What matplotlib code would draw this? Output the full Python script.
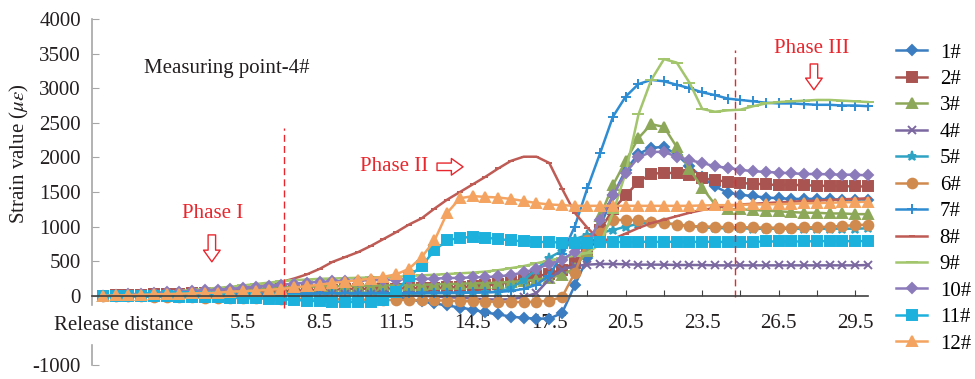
import numpy as np
import matplotlib
matplotlib.use("Agg")
import matplotlib.pyplot as plt

plt.rcParams['font.family'] = ['Liberation Serif', 'DejaVu Serif']
plt.rcParams['mathtext.fontset'] = 'stix'
plt.rcParams['axes.unicode_minus'] = False

# release distance (categories, step 0.5)
release = np.arange(0, 30.5, 0.5)

# strain values per measuring point (micro strain)
s1 = [0, 2, 4, 6, 8, 10, 12, 14, 16, 18,
      20, 22, 24, 26, 28, 30, 30, 32, 32, 30,
      25, 15, 0, -20, -50, -80, -110, -140, -170, -200,
      -240, -270, -300, -320, -330, -330, -250, 150, 550, 1000,
      1450, 1820, 2050, 2140, 2150, 2040, 1870, 1710, 1580, 1490,
      1460, 1440, 1420, 1410, 1400, 1400, 1400, 1395, 1390, 1390,
      1390]
s2 = [0, 5, 10, 15, 20, 25, 30, 35, 40, 45,
      50, 55, 60, 65, 70, 75, 80, 85, 90, 95,
      100, 100, 105, 105, 110, 110, 115, 120, 125, 135,
      150, 170, 200, 240, 280, 320, 380, 480, 650, 950,
      1250, 1450, 1650, 1760, 1780, 1770, 1740, 1700, 1670, 1650,
      1630, 1620, 1610, 1600, 1600, 1600, 1590, 1590, 1585, 1580,
      1580]
s3 = [0, 5, 10, 15, 20, 30, 40, 50, 60, 70,
      80, 90, 100, 110, 120, 125, 130, 135, 140, 140,
      145, 145, 150, 150, 155, 160, 165, 170, 175, 180,
      185, 190, 200, 215, 235, 260, 300, 400, 650, 1150,
      1600, 1950, 2280, 2480, 2440, 2150, 1830, 1560, 1320, 1250,
      1250, 1240, 1230, 1220, 1210, 1200, 1200, 1190, 1190, 1180,
      1180]
s4 = [0, 2, 4, 6, 8, 10, 12, 14, 16, 18,
      20, 22, 24, 26, 28, 30, 30, 30, 30, 30,
      30, 28, 25, 20, 10, 0, -10, -20, -30, -40,
      -50, -55, -50, -20, 40, 240, 380, 430, 450, 460,
      460, 455, 450, 450, 450, 445, 445, 445, 440, 440,
      440, 440, 440, 440, 440, 440, 440, 440, 440, 440,
      445]
s5 = [0, 2, 4, 6, 8, 10, 12, 14, 16, 18,
      20, 20, 22, 22, 24, 24, 25, 25, 26, 26,
      27, 28, 29, 30, 32, 34, 36, 38, 40, 45,
      50, 60, 110, 230, 380, 550, 650, 820, 880, 910,
      950, 1000, 1040, 1060, 1050, 1030, 1010, 990, 980, 975,
      975, 970, 970, 970, 970, 970, 970, 970, 970, 970,
      975]
s6 = [0, -5, -10, -10, -15, -15, -20, -20, -25, -25,
      -30, -30, -35, -35, -40, -40, -45, -45, -50, -50,
      -55, -55, -60, -60, -60, -65, -65, -70, -75, -80,
      -85, -85, -90, -90, -85, -70, -20, 330, 800, 910,
      1090, 1100, 1090, 1070, 1050, 1030, 1010, 1000, 1000, 990,
      990, 990, 985, 985, 985, 990, 990, 1000, 1010, 1020,
      1030]
s7 = [0, 2, 4, 6, 8, 10, 12, 14, 16, 18,
      20, 22, 24, 26, 28, 30, 32, 34, 36, 38,
      40, 40, 42, 42, 44, 44, 46, 46, 48, 48,
      50, 55, 70, 100, 160, 290, 600, 1000, 1560, 2066,
      2590, 2880, 3060, 3120, 3100, 3050, 3000, 2940, 2900, 2850,
      2830, 2810, 2790, 2780, 2780, 2770, 2760, 2760, 2750, 2750,
      2740]
s8 = [0, 5, 10, 15, 25, 35, 45, 55, 65, 80,
      95, 110, 130, 160, 200, 250, 310, 390, 490, 560,
      630, 720, 820, 920, 1030, 1120, 1260, 1390, 1500, 1610,
      1720, 1840, 1950, 2010, 2010, 1920, 1550, 1200, 980, 800,
      820, 900, 980, 1050, 1100, 1150, 1200, 1240, 1270, 1300,
      1320, 1330, 1340, 1350, 1360, 1370, 1375, 1385, 1395, 1400,
      1410]
s9 = [0, 10, 20, 30, 40, 55, 70, 85, 100, 115,
      130, 150, 170, 190, 210, 225, 235, 245, 250, 255,
      260, 265, 270, 275, 285, 295, 305, 315, 325, 335,
      350, 370, 400, 430, 470, 510, 550, 580, 620, 750,
      1200, 1780, 2620, 3120, 3420, 3370, 3080, 2700, 2660, 2680,
      2690, 2740, 2780, 2800, 2810, 2820, 2830, 2830, 2820, 2810,
      2800]
s10 = [0, 10, 20, 30, 40, 50, 60, 70, 80, 90,
       100, 115, 130, 145, 160, 175, 190, 200, 210, 215,
       220, 225, 230, 235, 240, 245, 250, 255, 260, 265,
       270, 280, 300, 340, 390, 460, 520, 640, 750, 1100,
       1450, 1780, 2000, 2080, 2080, 2010, 1960, 1920, 1870, 1850,
       1820, 1800, 1790, 1780, 1770, 1760, 1760, 1755, 1750, 1750,
       1740]
s11 = [0, -5, -5, -10, -10, -10, -15, -15, -20, -20,
       -25, -30, -35, -40, -50, -60, -70, -80, -85, -90,
       -90, -90, -60, 50, 280, 430, 660, 800, 840, 850,
       840, 820, 800, 790, 780, 775, 770, 770, 770, 775,
       775, 775, 780, 780, 780, 780, 780, 780, 780, 780,
       780, 780, 785, 785, 785, 785, 790, 790, 790, 790,
       790]
s12 = [0, 5, 10, 15, 20, 25, 30, 35, 40, 45,
       60, 65, 75, 85, 100, 120, 140, 160, 185, 205,
       225, 250, 275, 310, 390, 560, 800, 1200, 1410, 1440,
       1430, 1420, 1400, 1370, 1340, 1320, 1310, 1300, 1300, 1300,
       1300, 1300, 1300, 1300, 1300, 1300, 1300, 1305, 1310, 1310,
       1315, 1320, 1320, 1325, 1330, 1335, 1340, 1345, 1350, 1355,
       1360]

series = [s1, s2, s3, s4, s5, s6, s7, s8, s9, s10, s11, s12]
labels = ['1#', '2#', '3#', '4#', '5#', '6#', '7#', '8#', '9#', '10#', '11#', '12#']
colors = ['#3B7DC0', '#A95450', '#8EA85A', '#7B68A0', '#2FA3C3', '#D18A4E',
          '#2E8CD3', '#BE5B55', '#A3C56C', '#8C7BBB', '#1CB0DD', '#F4A460']
markers = ['D', 's', '^', 'x', '*', 'o', '+', '_', '_', 'D', 's', '^']
msizes = [5.5, 7, 7, 5.5, 6.5, 7, 7.5, 4, 8, 5.5, 7.5, 7]

fig = plt.figure(figsize=(9.75, 3.79), dpi=100)
ax = fig.add_axes([92 / 975, 1 - 365 / 379, (868 - 92) / 975, (365 - 19) / 379])

for vals, lab, c, m, ms in zip(series, labels, colors, markers, msizes):
    ax.plot(release, vals, color=c, lw=1.8, marker=m, ms=ms, mfc=c, mec=c,
            mew=1.4, label=lab, clip_on=False)

ax.set_xlim(-0.43, 30.0)
ax.set_ylim(-1000, 4000)

# axes styling
for sp in ['top', 'right', 'left']:
    ax.spines[sp].set_visible(False)
ax.spines['bottom'].set_position(('data', 0))
ax.spines['bottom'].set_color('#404040')
ax.spines['bottom'].set_linewidth(1.2)
ytr = ax.get_yaxis_transform()
ax.plot([0, 0], [-1000, -710], color='#A6A6A6', lw=1.2, transform=ytr, clip_on=False)
ax.plot([0, 0], [-130, 4000], color='#A6A6A6', lw=1.2, transform=ytr, clip_on=False)

xt = [1 + 1.5 * k for k in range(20)]
ax.set_xticks(xt)
ax.set_xticklabels([f'{t:.1f}' if t >= 5.5 and (t - 5.5) % 3 == 0 else '' for t in xt])
ax.set_yticks([-1000, 0, 500, 1000, 1500, 2000, 2500, 3000, 3500, 4000])
ax.tick_params(axis='x', direction='in', length=4, color='#404040', pad=13,
               labelsize=15, labelcolor='#231F20')
ax.tick_params(axis='y', direction='in', length=5, color='#A6A6A6', pad=8,
               labelsize=15, labelcolor='#231F20')

fig.text(19 / 975, 1 - 154 / 379, r'Strain value ($\mu\varepsilon$)', rotation=90,
         ha='center', va='center', fontsize=15, color='#231F20')
fig.text(124 / 975, 1 - 326 / 379, 'Release distance', ha='center', va='center',
         fontsize=15, color='#231F20')
ax.text(4.86, 3280, 'Measuring point-4#', ha='center', va='center', fontsize=15,
        color='#231F20')

# phase separators
red = '#E8262D'
ax.plot([7.1, 7.1], [-173, 2430], color=red, lw=1, ls=(0, (5, 3)))
ax.plot([24.8, 24.8], [-20, 3555], color=red, lw=1, ls=(0, (5, 3)))

ax.text(4.31, 1185, 'Phase I', ha='center', va='center', fontsize=15, color=red)
ax.text(11.41, 1864, 'Phase II', ha='center', va='center', fontsize=15, color=red)
ax.text(27.8, 3569, 'Phase III', ha='center', va='center', fontsize=15, color=red)

arrow = dict(arrowstyle='simple,head_length=0.7,head_width=1.0,tail_width=0.45',
             fc='white', ec=red, lw=1, shrinkA=0, shrinkB=0, mutation_scale=12)
ax.annotate('', xy=(4.27, 491), xytext=(4.27, 880), arrowprops=arrow)
ax.annotate('', xy=(14.12, 1864), xytext=(13.1, 1864), arrowprops=arrow)
ax.annotate('', xy=(27.88, 2977), xytext=(27.88, 3350), arrowprops=arrow)

fig.legend(loc='upper left', bbox_to_anchor=(896 / 975, 1 - 43 / 379), frameon=False,
           fontsize=15, handlelength=1.5, handletextpad=0.6, labelspacing=0.33,
           borderpad=0, borderaxespad=0)

fig.savefig('out.png', dpi=100)
